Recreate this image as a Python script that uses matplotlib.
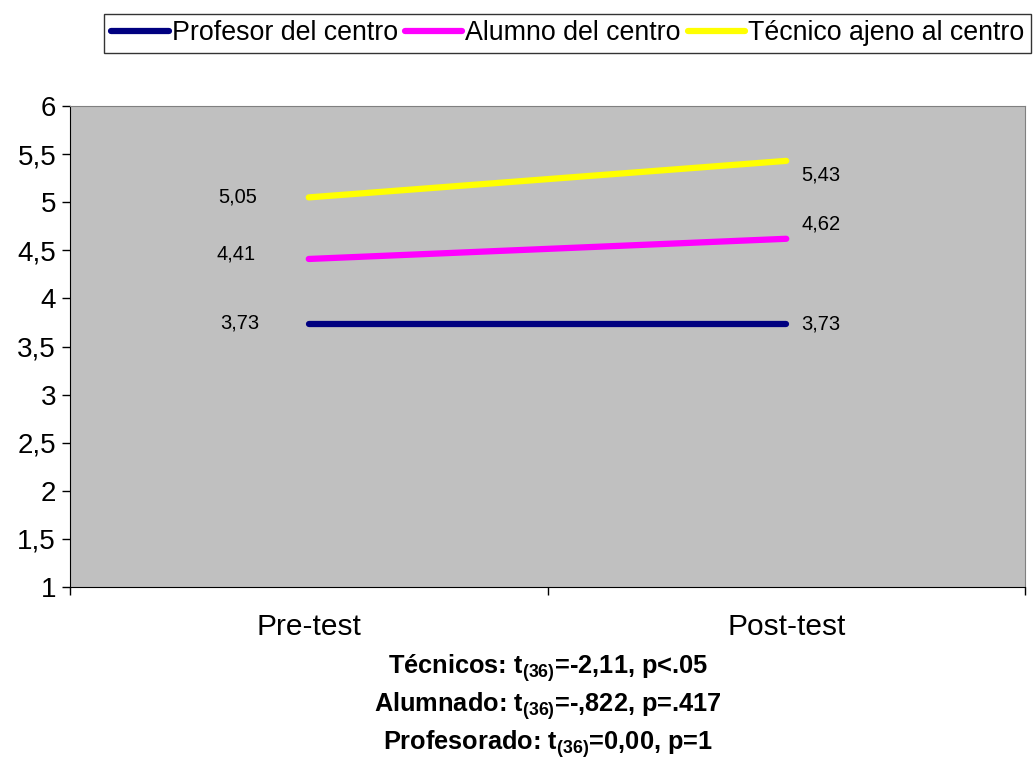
import matplotlib.pyplot as plt

plt.rcParams['font.family'] = ['Liberation Sans', 'DejaVu Sans']
plt.rcParams['mathtext.fontset'] = 'custom'
plt.rcParams['mathtext.rm'] = 'Liberation Sans'
plt.rcParams['mathtext.bf'] = 'Liberation Sans:bold'

categories = ['Pre-test', 'Post-test']
profesor = [3.73, 3.73]
alumno = [4.41, 4.62]
tecnico = [5.05, 5.43]
series_names = ['Profesor del centro', 'Alumno del centro', 'Técnico ajeno al centro']
stats = [r'Técnicos: $\mathbf{t_{(36)}}$=-2,11, p<.05',
         r'Alumnado: $\mathbf{t_{(36)}}$=-,822, p=.417',
         r'Profesorado: $\mathbf{t_{(36)}}$=0,00, p=1']

fig = plt.figure(figsize=(10.34, 7.6), dpi=100)
ax = fig.add_axes([0.0677, 0.2276, 0.9236, 0.6329])
ax.set_facecolor('#C0C0C0')

x = [0, 1]
l1, = ax.plot(x, profesor, color='#000080', lw=4.5, solid_capstyle='round')
l2, = ax.plot(x, alumno, color='#FF00FF', lw=4.5, solid_capstyle='round')
l3, = ax.plot(x, tecnico, color='#FFFF00', lw=4.5, solid_capstyle='round')

# value labels (offsets in pixels -> points)
def lab(xv, yv, dx, dy):
    ax.annotate(f'{yv:.2f}'.replace('.', ','), (xv, yv), xytext=(dx * 0.72, dy * 0.72),
                textcoords='offset points', ha='center', va='center', fontsize=14.5)

lab(0, tecnico[0], -71, 0)
lab(0, alumno[0], -73, 5)
lab(0, profesor[0], -69, 1)
lab(1, tecnico[1], 35, -14)
lab(1, alumno[1], 35, 15)
lab(1, profesor[1], 35, 0)

ax.set_xlim(-0.5, 1.5)
ax.set_ylim(1, 6)
ax.set_yticks([1, 1.5, 2, 2.5, 3, 3.5, 4, 4.5, 5, 5.5, 6])
ax.set_yticklabels(['1', '1,5', '2', '2,5', '3', '3,5', '4', '4,5', '5', '5,5', '6'], fontsize=20)
ax.set_xticks([-0.5, 0.5, 1.5])
ax.set_xticklabels([])
ax.set_xticks([0, 1], minor=True)
ax.set_xticklabels(categories, minor=True, fontsize=21.5)
ax.tick_params(axis='x', which='minor', length=0, pad=19)
ax.tick_params(axis='both', which='major', length=6, width=1, direction='out')
ax.tick_params(axis='y', pad=4)
for s in ['top', 'right']:
    ax.spines[s].set_color('#808080')
for s in ['left', 'bottom']:
    ax.spines[s].set_color('black')

leg = fig.legend([l1, l2, l3], series_names, loc='upper left', bbox_to_anchor=(0.101, 0.982),
                 ncol=3, fontsize=19.3, frameon=True, fancybox=False, edgecolor='black',
                 handlelength=2.15, handletextpad=0.11, columnspacing=0.26, borderpad=0.25,
                 borderaxespad=0)
leg.get_frame().set_linewidth(1)

for i, t in enumerate(stats):
    fig.text(0.53, 1 - (668 + 38 * i) / 760, t, ha='center', va='center', fontsize=18.3, fontweight='bold')

fig.savefig('out.png', dpi=100)
